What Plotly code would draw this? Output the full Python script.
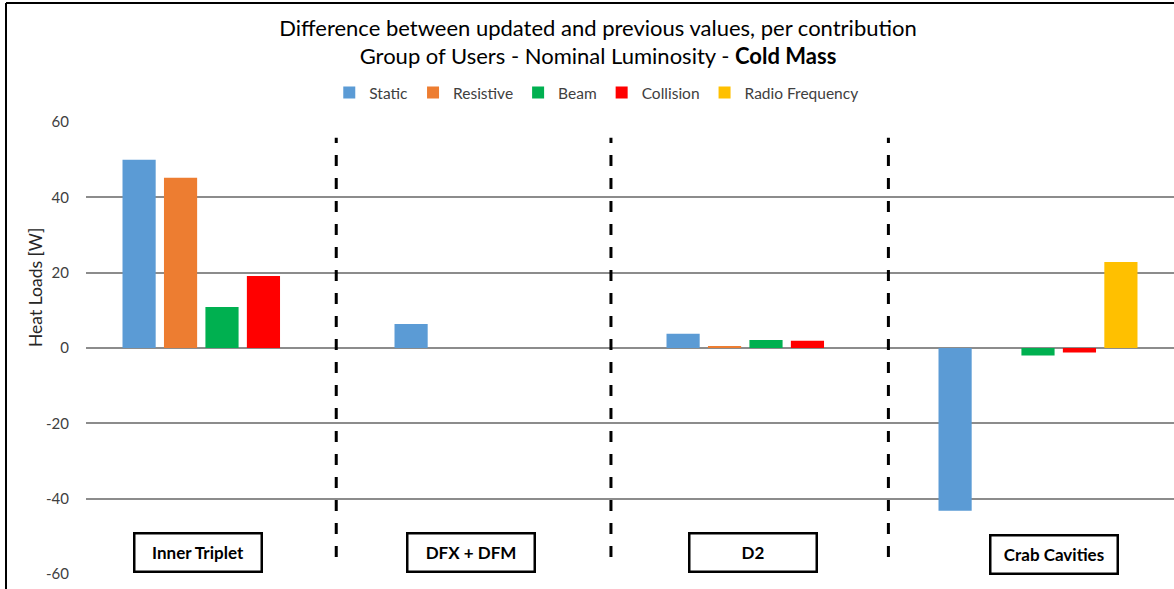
import plotly.graph_objects as go

# Heat-load differences (updated minus previous), in W, per contribution
groups = ["Inner Triplet", "DFX + DFM", "D2", "Crab Cavities"]
static = [50.0, 6.4, 3.8, -43.2]
resistive = [45.2, 0.0, 0.3, 0.0]
beam = [10.9, 0.0, 2.1, -2.0]
collision = [19.1, 0.0, 1.9, -1.2]
radio_frequency = [0.0, 0.0, 0.0, 22.8]

series = [
    ("Static", static, "#5B9BD5"),
    ("Resistive", resistive, "#ED7D31"),
    ("Beam", beam, "#00B050"),
    ("Collision", collision, "#FF0000"),
    ("Radio Frequency", radio_frequency, "#FFC000"),
]

y_ticks = [-60, -40, -20, 0, 20, 40, 60]

FONT = "Lato, 'Open Sans', sans-serif"
W, H = 1174, 589
L, R, T, B = 86, 0, 122, 15
plot_w, plot_h = W - L - R, H - T - B


def px_to_paper(px, py):
    return (px - L) / plot_w, (H - B - py) / plot_h


x_pos = list(range(len(groups)))

fig = go.Figure()
for name, vals, color in series:
    fig.add_trace(go.Bar(
        x=x_pos, y=vals, name=name,
        marker=dict(color=color, line=dict(width=0)),
    ))

# Dashed separators between the groups
for xs in [0.42, 1.43, 2.45]:
    fig.add_shape(type="line", xref="x", yref="y", x0=xs, x1=xs, y0=-55.5, y1=55.8,
                  line=dict(color="black", width=3, dash="11px,12px"))

# Boxed group labels under the bars
label_pos = [(-0.09, -54.4), (0.916, -54.4), (1.952, -54.4), (3.059, -54.9)]
for name, (lx, ly) in zip(groups, label_pos):
    fig.add_annotation(x=lx, y=ly, xref="x", yref="y", text=f"<b>{name}</b>",
                       showarrow=False, font=dict(family=FONT, size=17, color="black"),
                       width=123, height=34, bgcolor="white",
                       bordercolor="black", borderwidth=2.5, borderpad=1)

# Y-axis title
tx, ty = px_to_paper(35, 288)
fig.add_annotation(x=tx, y=ty, xref="paper", yref="paper", text="Heat Loads [W]",
                   showarrow=False, textangle=-90, xanchor="center", yanchor="middle",
                   font=dict(family=FONT, size=17.5, color="#262626"))

# Outer frame (top and left edges)
fx, fy = px_to_paper(6, 3)
_, fy_bot = px_to_paper(6, 600)
fig.add_shape(type="line", xref="paper", yref="paper", x0=fx, x1=1.0, y0=fy, y1=fy,
              line=dict(color="black", width=2))
fig.add_shape(type="line", xref="paper", yref="paper", x0=fx, x1=fx, y0=fy_bot, y1=fy,
              line=dict(color="black", width=2))

_, leg_y = px_to_paper(0, 93)

fig.update_layout(
    width=W, height=H,
    margin=dict(l=L, r=R, t=T, b=B),
    paper_bgcolor="white", plot_bgcolor="white",
    font=dict(family=FONT, color="#404040"),
    title=dict(
        text="Difference between updated and previous values, per contribution<br>"
             "Group of Users - Nominal Luminosity - <b>Cold Mass</b>",
        x=598 / W, xanchor="center", y=1 - 35.5 / H, yanchor="middle",
        font=dict(family=FONT, size=22, color="black"),
    ),
    barmode="group", bargap=0.238, bargroupgap=0.2,
    showlegend=True,
    legend=dict(orientation="h", x=0.469, xanchor="center", y=leg_y, yanchor="middle",
                font=dict(family=FONT, size=15.5, color="#404040"), itemwidth=30,
                traceorder="normal"),
    xaxis=dict(range=[-0.5, 3.5], showticklabels=False, showgrid=False, zeroline=False,
               showline=False, ticks=""),
    yaxis=dict(range=[-60, 60], tickvals=y_ticks, ticktext=[str(v) for v in y_ticks],
               showgrid=True, gridcolor="#8C8C8C", gridwidth=1.5,
               zeroline=True, zerolinecolor="#8C8C8C", zerolinewidth=1.5,
               showline=False, ticks="", ticklabelstandoff=16,
               tickfont=dict(family=FONT, size=15, color="#404040")),
)

fig.write_html("out.html")
